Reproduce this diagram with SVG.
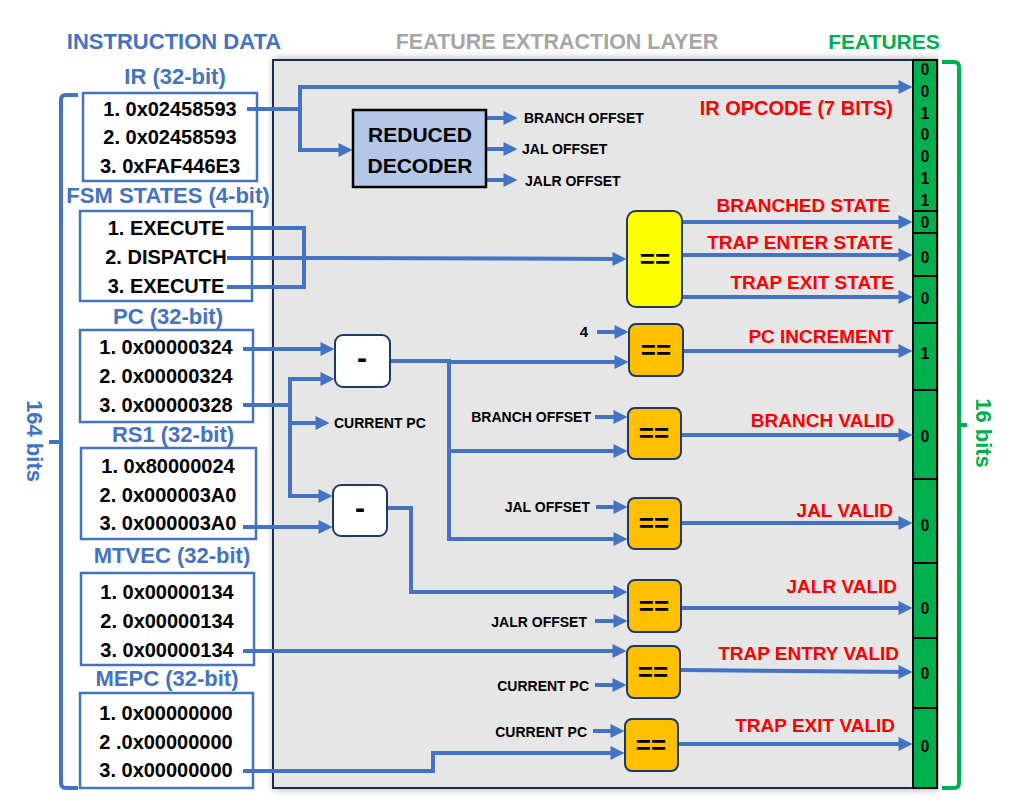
<svg xmlns="http://www.w3.org/2000/svg" width="1012" height="809" viewBox="0 0 1012 809">
<defs>
<marker id="ah" viewBox="0 0 10 10" refX="7.5" refY="5" markerWidth="4" markerHeight="3.5" orient="auto" markerUnits="strokeWidth">
<path d="M0,0 L10,5 L0,10 z" fill="#4472C4"/>
</marker>
<filter id="sh" x="-5%" y="-5%" width="110%" height="110%">
<feGaussianBlur in="SourceAlpha" stdDeviation="4"/>
<feOffset dx="2" dy="0"/>
<feComponentTransfer><feFuncA type="linear" slope="0.35"/></feComponentTransfer>
<feMerge><feMergeNode/><feMergeNode in="SourceGraphic"/></feMerge>
</filter>
<style>
text{font-family:"Liberation Sans",Arial,sans-serif;font-weight:bold;}
.hdr{font-size:22px;text-anchor:middle;}
.sec{font-size:22px;fill:#4472C4;text-anchor:middle;}
.val{font-size:20px;fill:#000;text-anchor:middle;}
.box{fill:#fff;stroke:#4472C4;stroke-width:2.5;}
.red{font-size:19px;fill:#FF0000;text-anchor:end;}
.sm{font-size:14px;fill:#000;}
.sme{font-size:14px;fill:#000;text-anchor:end;}
.bit{font-size:16px;fill:#000;text-anchor:middle;}
.eq{font-size:26px;fill:#000;text-anchor:middle;}
.org{fill:#FFC000;stroke:#1F3864;stroke-width:2;}
.wht{fill:#fff;stroke:#1F3864;stroke-width:2;}
.c{fill:none;stroke:#4472C4;stroke-width:4;stroke-linejoin:miter;}
.a{marker-end:url(#ah);}
.div{stroke:#000;stroke-width:2;}
</style>
</defs>
<rect width="1012" height="809" fill="#fff"/>

<!-- headers -->
<text class="hdr" x="174" y="49" fill="#4472C4">INSTRUCTION DATA</text>
<text class="hdr" x="557" y="49" fill="#A6A6A6" style="font-size:21.5px">FEATURE EXTRACTION LAYER</text>
<text class="hdr" x="884" y="49" fill="#00B050" style="font-size:21px">FEATURES</text>

<!-- feature extraction layer background -->
<g id="layer" filter="url(#sh)">
<rect x="273" y="60" width="640" height="728" fill="#E6E6E6" stroke="#1F2D4D" stroke-width="2"/>
</g>

<!-- features column -->
<g id="features" filter="url(#sh)">
<rect x="913" y="60" width="24" height="728" fill="#00B050" stroke="#111" stroke-width="2"/>
<line class="div" x1="913" y1="211" x2="937" y2="211"/>
<line class="div" x1="913" y1="233" x2="937" y2="233"/>
<line class="div" x1="913" y1="276" x2="937" y2="276"/>
<line class="div" x1="913" y1="323" x2="937" y2="323"/>
<line class="div" x1="913" y1="390" x2="937" y2="390"/>
<line class="div" x1="913" y1="479" x2="937" y2="479"/>
<line class="div" x1="913" y1="563" x2="937" y2="563"/>
<line class="div" x1="913" y1="638" x2="937" y2="638"/>
<line class="div" x1="913" y1="708" x2="937" y2="708"/>
<text class="bit" x="925" y="75">0</text>
<text class="bit" x="925" y="97">0</text>
<text class="bit" x="925" y="119">1</text>
<text class="bit" x="925" y="140">0</text>
<text class="bit" x="925" y="162">0</text>
<text class="bit" x="925" y="184">1</text>
<text class="bit" x="925" y="206">1</text>
<text class="bit" x="925" y="228">0</text>
<text class="bit" x="925" y="263">0</text>
<text class="bit" x="925" y="304">0</text>
<text class="bit" x="925" y="359">1</text>
<text class="bit" x="925" y="442">0</text>
<text class="bit" x="925" y="531">0</text>
<text class="bit" x="925" y="614">0</text>
<text class="bit" x="925" y="679">0</text>
<text class="bit" x="925" y="752">0</text>
</g>

<!-- brackets -->
<g id="bracket-left">
<path d="M78,95 H66 Q61,95 61,100 V783 Q61,788 66,788 H78 M61,442 H49" fill="none" stroke="#4472C4" stroke-width="4"/>
<text class="sec" transform="translate(27,441) rotate(90)" x="0" y="0">164 bits</text>
</g>
<g id="bracket-right">
<path d="M942,62 H954 Q959,62 959,67 V783 Q959,788 954,788 H942 M959,425 H967" fill="none" stroke="#00B050" stroke-width="4"/>
<text class="sec" transform="translate(976,433) rotate(90)" x="0" y="0" style="fill:#00B050">16 bits</text>
</g>

<!-- input data nodes -->
<g id="ir">
<text class="sec" x="175" y="84">IR (32-bit)</text>
<rect class="box" x="83" y="93" width="174" height="88"/>
<text class="val" x="170" y="116">1. 0x02458593</text>
<text class="val" x="170" y="144">2. 0x02458593</text>
<text class="val" x="170" y="173">3. 0xFAF446E3</text>
</g>
<g id="fsm">
<text class="sec" x="168" y="203">FSM STATES (4-bit)</text>
<rect class="box" x="80" y="211" width="172" height="90"/>
<text class="val" x="166" y="235">1. EXECUTE</text>
<text class="val" x="166" y="264">2. DISPATCH</text>
<text class="val" x="166" y="293">3. EXECUTE</text>
</g>
<g id="pc">
<text class="sec" x="168" y="324">PC (32-bit)</text>
<rect class="box" x="80" y="330" width="173" height="92"/>
<text class="val" x="166" y="354">1. 0x00000324</text>
<text class="val" x="166" y="383">2. 0x00000324</text>
<text class="val" x="166" y="412">3. 0x00000328</text>
</g>
<g id="rs1">
<text class="sec" x="173" y="442">RS1 (32-bit)</text>
<rect class="box" x="81" y="448" width="175" height="91"/>
<text class="val" x="168" y="473">1. 0x80000024</text>
<text class="val" x="168" y="502">2. 0x000003A0</text>
<text class="val" x="168" y="530">3. 0x000003A0</text>
</g>
<g id="mtvec">
<text class="sec" x="172" y="563">MTVEC (32-bit)</text>
<rect class="box" x="81" y="573" width="173" height="92"/>
<text class="val" x="167" y="599">1. 0x00000134</text>
<text class="val" x="167" y="628">2. 0x00000134</text>
<text class="val" x="167" y="657">3. 0x00000134</text>
</g>
<g id="mepc">
<text class="sec" x="167" y="686">MEPC (32-bit)</text>
<rect class="box" x="80" y="693" width="173" height="95"/>
<text class="val" x="166" y="720">1. 0x00000000</text>
<text class="val" x="166" y="749">2 .0x00000000</text>
<text class="val" x="166" y="777">3. 0x00000000</text>
</g>

<!-- connectors -->
<g id="connectors">
<path class="c a" d="M247,109 H300 V87 H909"/>
<path class="c a" d="M300,109 V150 H349"/>
<path class="c a" d="M486,118 H514"/>
<path class="c a" d="M486,149 H514"/>
<path class="c a" d="M486,180 H514"/>
<path class="c" d="M227,228 H304 V287 H227"/>
<path class="c a" d="M227,258 H330 L623,259"/>
<path class="c a" d="M682,222 H909"/>
<path class="c a" d="M682,255 H909"/>
<path class="c a" d="M682,297 H909"/>
<path class="c a" d="M243,349 H331"/>
<path class="c" d="M243,405 H290 M290,377 V498"/>
<path class="c a" d="M288,379 H331"/>
<path class="c a" d="M290,423 H326"/>
<path class="c a" d="M288,496 H329"/>
<path class="c a" d="M243,527 H329"/>
<path class="c" d="M390,361 H449 M449,359 V541"/>
<path class="c a" d="M449,362 H625"/>
<path class="c a" d="M447,451 H624"/>
<path class="c a" d="M447,539 H624"/>
<path class="c a" d="M387,508 H411 V592 H624"/>
<path class="c a" d="M597,332 H625"/>
<path class="c a" d="M595,417 H624"/>
<path class="c a" d="M596,507 H624"/>
<path class="c a" d="M595,621 H624"/>
<path class="c a" d="M243,651 H623"/>
<path class="c a" d="M595,685 H623"/>
<path class="c a" d="M593,731 H621"/>
<path class="c a" d="M243,771 H433 V753 H621"/>
<path class="c a" d="M683,351 H909"/>
<path class="c a" d="M681,435 H909"/>
<path class="c a" d="M681,523 H909"/>
<path class="c a" d="M681,608 H909"/>
<path class="c a" d="M680,670 L909,672"/>
<path class="c a" d="M678,744 H909"/>
</g>

<!-- decoder -->
<g id="decoder">
<rect x="353" y="110" width="133" height="77" fill="#B4C7E7" stroke="#000" stroke-width="2.5"/>
<text x="420" y="142" style="font-size:21px;text-anchor:middle">REDUCED</text>
<text x="420" y="173" style="font-size:21px;text-anchor:middle">DECODER</text>
<text class="sm" x="524" y="123">BRANCH OFFSET</text>
<text class="sm" x="522" y="154">JAL OFFSET</text>
<text class="sm" x="525" y="186">JALR OFFSET</text>
</g>

<!-- FSM comparator -->
<g id="state-cmp">
<rect x="627" y="211" width="55" height="96" rx="9" fill="#FFFF00" stroke="#1F3864" stroke-width="2"/>
<text class="eq" x="655" y="268">==</text>
</g>

<!-- subtractors -->
<g id="sub1">
<rect class="wht" x="335" y="335" width="55" height="52" rx="8"/>
<text x="362" y="368" style="font-size:30px;text-anchor:middle">-</text>
</g>
<g id="sub2">
<rect class="wht" x="333" y="485" width="54" height="51" rx="8"/>
<text x="360" y="518" style="font-size:30px;text-anchor:middle">-</text>
</g>
<text class="sm" x="334" y="428">CURRENT PC</text>

<!-- comparators -->
<g id="cmp-pcinc">
<rect class="org" x="629" y="324" width="54" height="52" rx="7"/>
<text class="eq" x="656" y="359">==</text>
<text x="588" y="337" style="font-size:15px;text-anchor:end">4</text>
</g>
<g id="cmp-branch">
<rect class="org" x="628" y="408" width="53" height="51" rx="7"/>
<text class="eq" x="654" y="442">==</text>
<text class="sme" x="591" y="422">BRANCH OFFSET</text>
</g>
<g id="cmp-jal">
<rect class="org" x="628" y="498" width="53" height="51" rx="7"/>
<text class="eq" x="654" y="532">==</text>
<text class="sme" x="590" y="512">JAL OFFSET</text>
</g>
<g id="cmp-jalr">
<rect class="org" x="628" y="580" width="53" height="52" rx="7"/>
<text class="eq" x="654" y="615">==</text>
<text class="sme" x="587" y="627">JALR OFFSET</text>
</g>
<g id="cmp-trapentry">
<rect class="org" x="627" y="646" width="53" height="52" rx="7"/>
<text class="eq" x="653" y="681">==</text>
<text class="sme" x="589" y="691">CURRENT PC</text>
</g>
<g id="cmp-trapexit">
<rect class="org" x="625" y="719" width="53" height="52" rx="7"/>
<text class="eq" x="651" y="754">==</text>
<text class="sme" x="587" y="737">CURRENT PC</text>
</g>

<!-- output labels -->
<g id="labels">
<text class="red" x="893" y="115" style="font-size:20px">IR OPCODE (7 BITS)</text>
<text class="red" x="890" y="212">BRANCHED STATE</text>
<text class="red" x="893" y="249">TRAP ENTER STATE</text>
<text class="red" x="894" y="289">TRAP EXIT STATE</text>
<text class="red" x="893" y="343">PC INCREMENT</text>
<text class="red" x="894" y="427">BRANCH VALID</text>
<text class="red" x="893" y="517">JAL VALID</text>
<text class="red" x="897" y="593">JALR VALID</text>
<text class="red" x="899" y="660">TRAP ENTRY VALID</text>
<text class="red" x="895" y="732">TRAP EXIT VALID</text>
</g>
</svg>
